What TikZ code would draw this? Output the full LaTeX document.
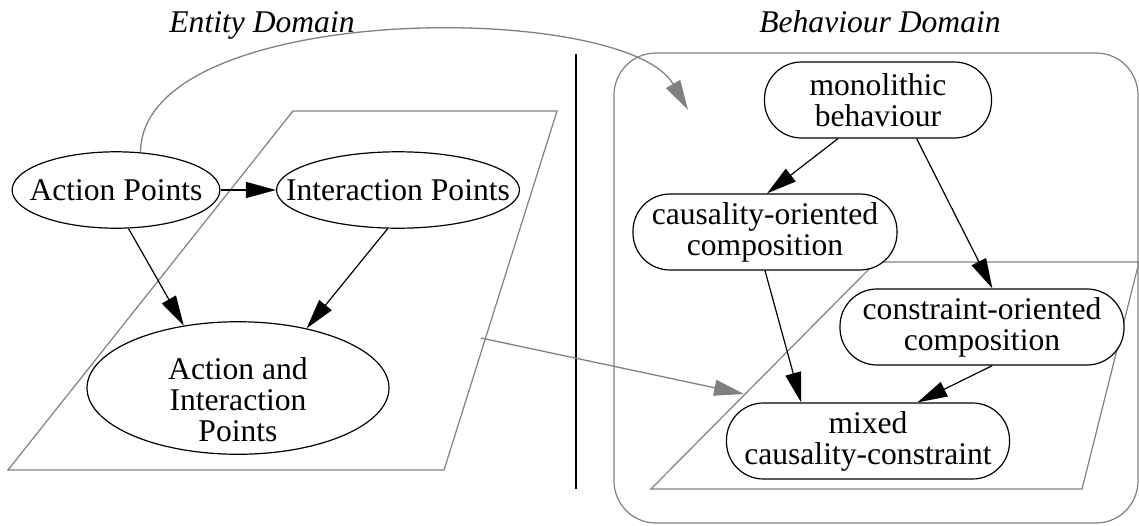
\documentclass[tikz,border=0pt]{standalone}
\usepackage{fontspec}
\setmainfont{Liberation Serif}
\usetikzlibrary{shapes.geometric,arrows.meta}

\begin{document}
\begin{tikzpicture}[x=1pt,y=-1pt,
        txt/.style={font=\fontsize{31.6}{31}\selectfont},
        pts/.style={txt,ellipse,draw,fill=white,line width=1.2pt,inner ysep=16.4pt},
        beh/.style={txt,draw,fill=white,line width=1.2pt,rounded corners=37pt,minimum height=76pt,inner sep=4pt,align=center},
        dom/.style={font=\fontsize{31.6}{31}\selectfont\itshape,anchor=base},
        link/.style={-{Triangle[length=30pt,width=16pt]},line width=1.2pt},
        map/.style={-{Triangle[length=30pt,width=16pt]},gray,line width=1.3pt}]

        \useasboundingbox (0,0) rectangle (1139,525);

        % Domain titles
        \node[dom] (entT) at (262,32) {Entity Domain};
        \node[dom] (behT) at (880,32) {Behaviour Domain};

        % Divider
        \draw[line width=1.2pt] (576,54) -- (576,489);

        % Planes
        \draw[gray,line width=1.2pt] (293,111) -- (557,111) -- (444,470) -- (8,470) -- cycle;
        \draw[gray,line width=1.2pt,rounded corners=42pt] (614,53) rectangle (1138,523);
        \draw[gray,line width=1.2pt] (876,262) -- (1139,262) -- (1082,489) -- (651,489) -- cycle;

        % Entity nodes
        \node[pts,inner xsep=-13pt] (ap) at (116,190) {Action Points};
        \node[pts,inner xsep=-26pt] (ip) at (398,190) {Interaction Points};
        \node[pts,inner xsep=37pt,inner ysep=-7.3pt,align=center] (aip) at (238,388) {\rule{0pt}{46pt}Action and\\Interaction\\Points};

        % Behaviour nodes
        \node[beh,minimum width=227pt] (mono) at (878,100) {monolithic\\behaviour};
        \node[beh,minimum width=264pt] (caus) at (765,232) {causality-oriented\\composition};
        \node[beh,minimum width=284pt] (cons) at (982,327) {constraint-oriented\\composition};
        \node[beh,minimum width=283pt] (mix) at (868,441) {mixed\\causality-constraint};

        % Refinements
        \draw[link] (ap) -- (ip);
        \draw[link] (ap.-72) -- (aip.131);
        \draw[link] (ip.-105) -- (aip.41);
        \draw[link] (mono.-136) -- (caus.87);
        \draw[link] (mono.-45) -- (cons.75);
        \draw[link] (caus.south) -- (mix.150);
        \draw[link] (cons.-75) -- (mix.38);

        % Mappings between domains
        \coordinate (entOut) at (481,338);
        \coordinate (behIn) at (744,394);
        \coordinate (monoIn) at (688,110);
        \draw[map] (entOut) -- (behIn);
        \draw[map] (ap.57) .. controls (142,0) and (625,0) .. (monoIn);

    \end{tikzpicture}
\end{document}
